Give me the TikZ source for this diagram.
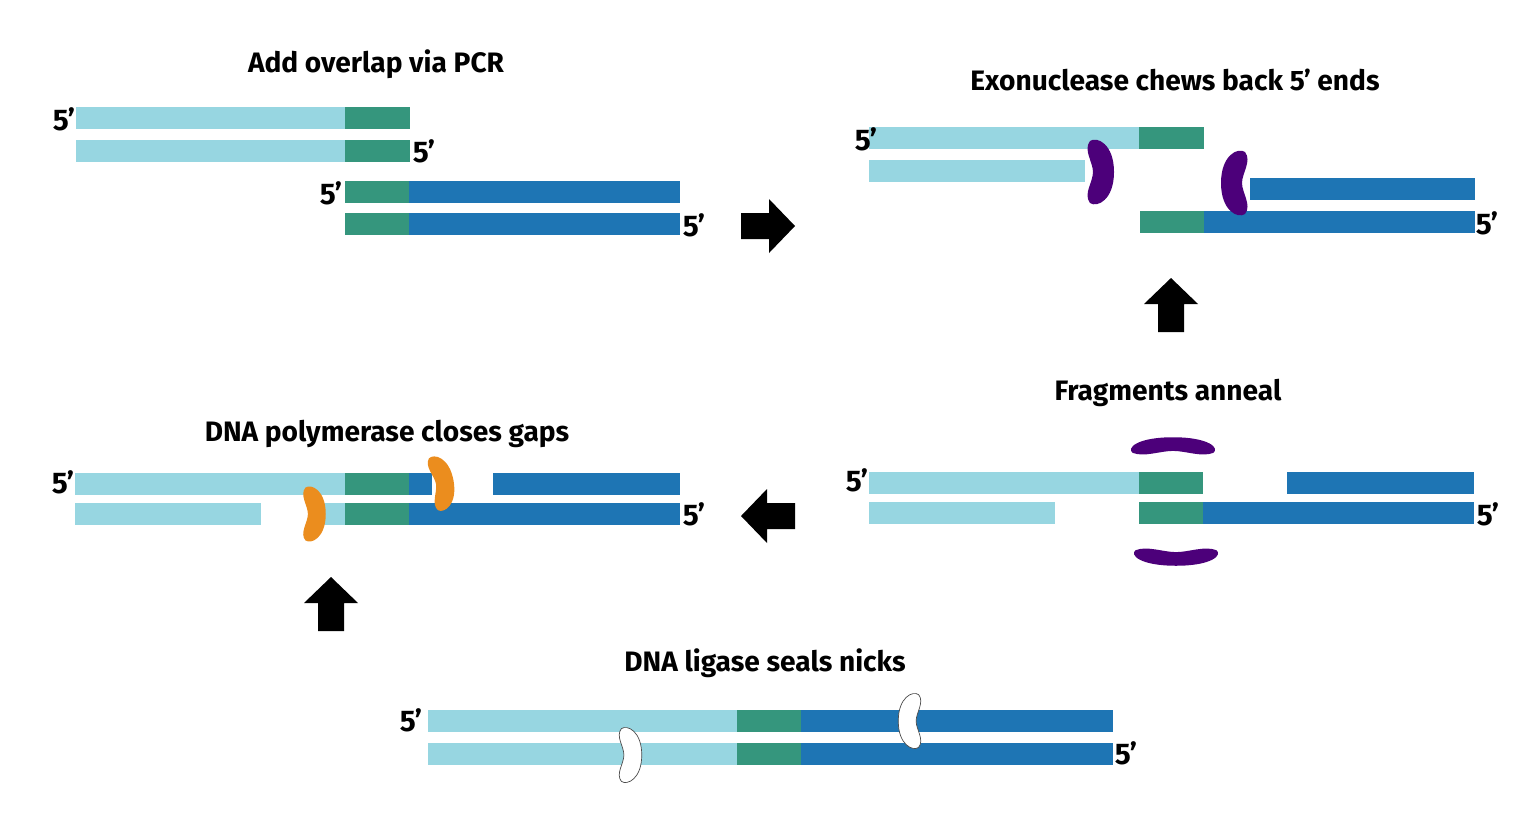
\documentclass[tikz,border=0pt]{standalone}
\usepackage{fontspec}
\setmainfont{Fira Sans}
\begin{document}
\begin{tikzpicture}[x=0.02cm,y=-0.02cm,
  lb/.style={fill={rgb,255:red,151;green,214;blue,225}},
  gr/.style={fill={rgb,255:red,53;green,150;blue,125}},
  db/.style={fill={rgb,255:red,30;green,117;blue,180}},
  ttl/.style={font=\fontsize{16}{18}\selectfont\bfseries},
  fp/.style={font=\fontsize{17}{19}\selectfont\bfseries},
  purp/.style={fill={rgb,255:red,76;green,0;blue,122}},
  orng/.style={fill={rgb,255:red,235;green,141;blue,30}},
  wht/.style={fill=white,draw=black!70,line width=0.4pt},
  bean/.pic={\path[pic actions] (-9,-31) .. controls (-16,-22) and (-6,-10) .. (-6,0) .. controls (-6,10) and (-16,22) .. (-9,31) .. controls (-2,36) and (15,28) .. (15,0) .. controls (15,-28) and (-2,-36) .. (-9,-31) -- cycle;},
  barrow/.pic={\fill[black] (-27,-13) -- (1,-13) -- (1,-27) -- (27,0) -- (1,27) -- (1,13) -- (-27,13) -- cycle;}
]
\useasboundingbox (0,0) rectangle (1540,832);
% Panel 1
\node[ttl] (t1) at (376,64) {Add overlap via PCR};
\fill[lb] (76,107) rectangle (345,129); \fill[gr] (345,107) rectangle (410,129);
\fill[lb] (76,140) rectangle (345,162); \fill[gr] (345,140) rectangle (410,162);
\fill[gr] (345,181) rectangle (409,203); \fill[db] (409,181) rectangle (680,203);
\fill[gr] (345,213) rectangle (409,235); \fill[db] (409,213) rectangle (680,235);
\node[fp] (a1) at (64,119) {5’}; \node[fp] (a2) at (424,151) {5’};
\node[fp] (a3) at (331,193) {5’}; \node[fp] (a4) at (694,225) {5’};
% arrows
\pic at (768,226) {barrow};
\pic[rotate=90] at (1171,305) {barrow};
\pic[rotate=180] at (768,516) {barrow};
\pic[rotate=90] at (331,604) {barrow};
% Panel 2
\node[ttl] (t2) at (1175,80) {Exonuclease chews back 5’ ends};
\fill[lb] (869,127) rectangle (1139,149); \fill[gr] (1139,127) rectangle (1204,149);
\fill[lb] (869,160) rectangle (1085,182);
\fill[db] (1250,178) rectangle (1475,200);
\fill[gr] (1140,211) rectangle (1204,233); \fill[db] (1204,211) rectangle (1475,233);
\pic[purp] at (1099,172) {bean};
\pic[purp,xscale=-1] at (1236,183) {bean};
\node[fp] (b1) at (866,139) {5’}; \node[fp] (b2) at (1487,223) {5’};
% Panel 3
\node[ttl] (t3) at (1168,393) {Fragments anneal};
\fill[lb] (869,472) rectangle (1139,494); \fill[gr] (1139,472) rectangle (1203,494);
\fill[db] (1287,472) rectangle (1474,494);
\fill[lb] (869,502) rectangle (1055,524); \fill[gr] (1139,502) rectangle (1203,524);
\fill[db] (1203,502) rectangle (1474,524);
\pic[purp,rotate=90,xscale=0.65,yscale=1.3] at (1173,447) {bean};
\pic[purp,rotate=-90,xscale=0.65,yscale=1.3] at (1176,556) {bean};
\node[fp] (c1) at (857,480) {5’}; \node[fp] (c2) at (1488,514) {5’};
% Panel 4
\node[ttl] (t4) at (387,434) {DNA polymerase closes gaps};
\fill[lb] (75,473) rectangle (345,495); \fill[gr] (345,473) rectangle (409,495);
\fill[db] (409,473) rectangle (432,495); \fill[db] (493,473) rectangle (680,495);
\fill[lb] (75,503) rectangle (261,525); \fill[lb] (318,503) rectangle (345,525);
\fill[gr] (345,503) rectangle (409,525); \fill[db] (409,503) rectangle (680,525);
\pic[orng,scale=0.85] at (313,514) {bean};
\pic[orng,scale=0.85,rotate=10] at (441,483) {bean};
\node[fp] (d1) at (63,482) {5’}; \node[fp] (d2) at (694,514) {5’};
% Panel 5
\node[ttl] (t5) at (765,663) {DNA ligase seals nicks};
\fill[lb] (428,710) rectangle (737,732); \fill[gr] (737,710) rectangle (801,732); \fill[db] (801,710) rectangle (1113,732);
\fill[lb] (428,743) rectangle (737,765); \fill[gr] (737,743) rectangle (801,765); \fill[db] (801,743) rectangle (1113,765);
\pic[wht,scale=0.85] at (629,755) {bean};
\pic[wht,scale=0.85,xscale=-1] at (911,721) {bean};
\node[fp] (e1) at (411,720) {5’}; \node[fp] (e2) at (1126,753) {5’};
\end{tikzpicture}
\end{document}
